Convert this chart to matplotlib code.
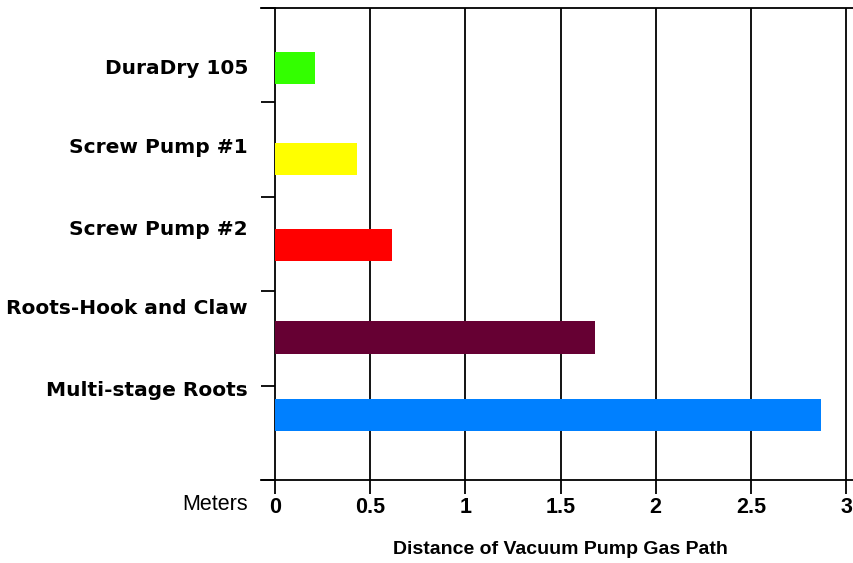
import numpy as np
import matplotlib
matplotlib.use('Agg')
import matplotlib.pyplot as plt

# data
pumps = ['DuraDry 105', 'Screw Pump #1', 'Screw Pump #2',
         'Roots-Hook and Claw', 'Multi-stage Roots']
distance_m = [0.21, 0.43, 0.615, 1.68, 2.87]
bar_colors = ['#33ff00', '#ffff00', '#ff0000', '#660033', '#0080ff']
xticks = [0, 0.5, 1, 1.5, 2, 2.5, 3]
xtick_labels = ['0', '0.5', '1', '1.5', '2', '2.5', '3']

# layout (band units, top = 0): bars and labels sit a bit off-centre like the original
bar_pos = [0.64, 1.60, 2.51, 3.49, 4.31]
label_pos = [0.64, 1.48, 2.35, 3.18, 4.05]

W, H = 854, 563
fig = plt.figure(figsize=(W / 100, H / 100), dpi=100)
ax = fig.add_axes([261 / W, 1 - 480 / H, 1 - 261 / W, (480 - 8) / H])

ax.barh(bar_pos, distance_m, height=0.34, color=bar_colors, zorder=3)

ax.set_xlim(-0.0736, 3.042)
ax.set_ylim(5, 0)

# vertical grid lines
for xv in xticks[1:]:
    ax.axvline(xv, color='black', lw=1.3, zorder=1)

ax.spines['right'].set_visible(False)
ax.spines['left'].set_position(('data', 0))
for s in ['left', 'top', 'bottom']:
    ax.spines[s].set_linewidth(1.3)

ax.set_yticks(np.arange(0, 6))
ax.set_yticklabels([])
ax.tick_params(axis='y', direction='out', length=10, width=1.3)
ax.set_xticks(xticks)
ax.set_xticklabels(xtick_labels, fontsize=15.5, fontweight='bold', family='Liberation Sans')
ax.tick_params(axis='x', direction='out', length=10, width=1.3, pad=2)

for name, yp in zip(pumps, label_pos):
    ax.text(-0.142, yp, name, ha='right', va='center', fontsize=14.5,
            fontweight='bold', family='DejaVu Sans', clip_on=False)

fig.text(248 / W, 1 - 504 / H, 'Meters', ha='right', va='center',
         fontsize=15.5, family='Liberation Sans')
fig.text(560 / W, 1 - 550 / H, 'Distance of Vacuum Pump Gas Path',
         ha='center', va='center', fontsize=14, fontweight='bold',
         family='Liberation Sans')

fig.savefig('out.png', dpi=100)
